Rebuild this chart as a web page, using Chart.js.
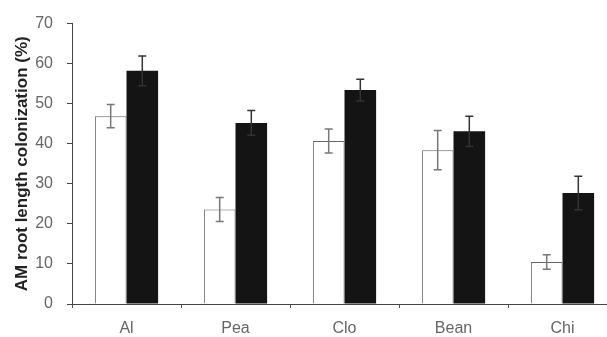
<!DOCTYPE html>
<html>
<head>
<meta charset="utf-8">
<script src="https://cdn.jsdelivr.net/npm/chart.js@4"></script>
<style>
  html, body { margin: 0; padding: 0; background: #fff; overflow: hidden; width: 607px; height: 337px; }
  canvas { display: block; }
</style>
</head>
<body>
<canvas id="colonChart" width="630" height="337"></canvas>
<script>
const crops = ['Al', 'Pea', 'Clo', 'Bean', 'Chi'];
const openValues = [46.9, 23.6, 40.7, 38.4, 10.5];
const openErrors = [2.9, 3.0, 3.0, 4.9, 1.8];
const filledValues = [58.2, 45.2, 53.4, 43.1, 27.7];
const filledErrors = [3.7, 3.1, 2.7, 3.8, 4.2];
const yTicks = [0, 10, 20, 30, 40, 50, 60, 70];

// error bars, drawn from each bar's position on the scales
const errorBars = {
    id: 'errorBars',
    afterDatasetsDraw(chart) {
        const ctx = chart.ctx;
        const yScale = chart.scales.y;
        chart.data.datasets.forEach((ds, i) => {
            const meta = chart.getDatasetMeta(i);
            ctx.save();
            ctx.strokeStyle = ds.errColor;
            ctx.lineWidth = 1.5;
            meta.data.forEach((bar, j) => {
                const v = ds.data[j];
                const e = ds.errors[j];
                const top = yScale.getPixelForValue(v + e);
                const bot = yScale.getPixelForValue(v - e);
                const x = bar.x;
                ctx.beginPath();
                ctx.moveTo(x, top);
                ctx.lineTo(x, bot);
                ctx.moveTo(x - 4, top);
                ctx.lineTo(x + 4, top);
                ctx.moveTo(x - 4, bot);
                ctx.lineTo(x + 4, bot);
                ctx.stroke();
            });
            ctx.restore();
        });
    }
};

const ctx = document.getElementById('colonChart').getContext('2d');
new Chart(ctx, {
    type: 'bar',
    data: {
        labels: crops,
        datasets: [
            {
                label: 'open',
                data: openValues,
                errors: openErrors,
                errColor: '#777',
                backgroundColor: '#ffffff',
                borderColor: '#666',
                borderWidth: 1,
                borderSkipped: 'bottom'
            },
            {
                label: 'filled',
                data: filledValues,
                errors: filledErrors,
                errColor: '#333',
                backgroundColor: '#141414',
                borderColor: '#141414',
                borderWidth: 0
            }
        ]
    },
    options: {
        responsive: false,
        animation: false,
        categoryPercentage: 0.58,
        barPercentage: 1.0,
        layout: { padding: { top: 20, right: 13, bottom: 0, left: 0 } },
        plugins: { legend: { display: false }, tooltip: { enabled: false } },
        scales: {
            x: {
                grid: { drawOnChartArea: false, tickLength: 4, color: '#555' },
                border: { color: '#444', width: 1 },
                ticks: {
                    color: '#666',
                    padding: 11,
                    font: { family: '"Liberation Sans", Arial, sans-serif', size: 16 }
                },
                afterFit(scale) { scale.height = 33; }
            },
            y: {
                min: 0,
                max: 70,
                afterBuildTicks(scale) { scale.ticks = yTicks.map(v => ({ value: v })); },
                grid: { drawOnChartArea: false, tickLength: 5, color: '#444' },
                border: { color: '#444', width: 1 },
                ticks: {
                    color: '#666',
                    padding: 14,
                    font: { family: '"Liberation Sans", Arial, sans-serif', size: 16 }
                },
                title: {
                    display: true,
                    text: 'AM root length colonization (%)',
                    color: '#222',
                    padding: { top: 12, bottom: 0 },
                    font: { family: '"Liberation Sans", Arial, sans-serif', size: 17, weight: 'bold' }
                },
                afterFit(scale) { scale.width = 72; }
            }
        }
    },
    plugins: [errorBars]
});
</script>
</body>
</html>
